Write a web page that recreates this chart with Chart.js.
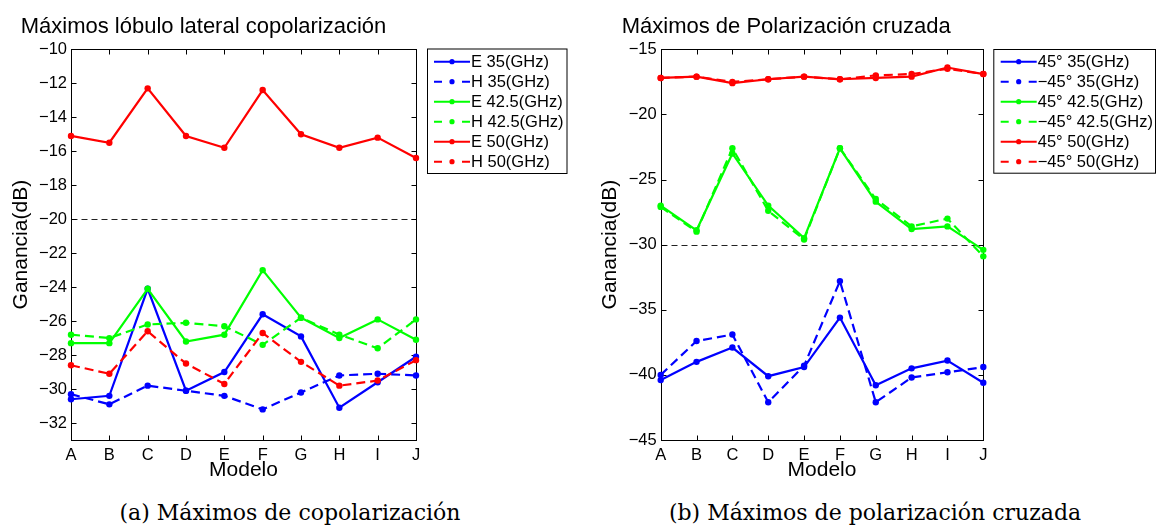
<!DOCTYPE html>
<html>
<head>
<meta charset="utf-8">
<script src="https://cdn.jsdelivr.net/npm/chart.js@4.4.1/dist/chart.umd.min.js"></script>
<style>
body { margin:0; background:#fff; width:1158px; height:531px; position:relative; overflow:hidden; font-family:'Liberation Sans', Arial, sans-serif; }
canvas { position:absolute; top:0; }
#graf1 { left:0; }
#graf2 { left:580px; }
.titulo { position:absolute; top:14.7px; font-size:22px; line-height:22px; white-space:nowrap; color:#000; }
.pie { position:absolute; top:502px; font-family:'DejaVu Serif', serif; font-size:22px; line-height:22px; white-space:nowrap; transform:translateX(-50%); color:#000; }
</style>
</head>
<body>
<canvas id="graf1" width="580" height="490"></canvas>
<canvas id="graf2" width="578" height="490"></canvas>
<div class="titulo" style="left:20.7px">Máximos lóbulo lateral copolarización</div>
<div class="titulo" style="left:621.7px">Máximos de Polarización cruzada</div>
<div class="pie" style="left:290px">(a) Máximos de copolarización</div>
<div class="pie" style="left:875px">(b) Máximos de polarización cruzada</div>
<script>
// Modelos de antena en el eje x
var modelos = ['A', 'B', 'C', 'D', 'E', 'F', 'G', 'H', 'I', 'J'];

// (a) Máximos del lóbulo lateral en copolarización, plano E y plano H
var e35  = [-30.6, -30.4, -24.1, -30.1, -29.0, -25.6, -26.9, -31.1, -29.6, -28.1];
var h35  = [-30.3, -30.9, -29.8, -30.1, -30.4, -31.2, -30.2, -29.2, -29.1, -29.2];
var e425 = [-27.3, -27.3, -24.1, -27.2, -26.8, -23.0, -25.8, -27.0, -25.9, -27.1];
var h425 = [-26.8, -27.0, -26.2, -26.1, -26.3, -27.4, -25.8, -26.8, -27.6, -25.9];
var e50  = [-15.1, -15.5, -12.3, -15.1, -15.8, -12.4, -15.0, -15.8, -15.2, -16.4];
var h50  = [-28.6, -29.1, -26.6, -28.5, -29.7, -26.7, -28.4, -29.8, -29.5, -28.3];
var ticksCo = [-32, -30, -28, -26, -24, -22, -20, -18, -16, -14, -12, -10];
var umbralCo = -20;

// (b) Máximos de polarización cruzada, +45° y -45°
var p45_35  = [-40.4, -39.0, -37.9, -40.1, -39.4, -35.6, -40.8, -39.5, -38.9, -40.6];
var m45_35  = [-40.0, -37.4, -36.9, -42.1, -39.3, -32.8, -42.1, -40.2, -39.8, -39.4];
var p45_425 = [-27.0, -28.9, -23.0, -27.0, -29.5, -22.6, -26.7, -28.8, -28.6, -30.4];
var m45_425 = [-27.1, -29.0, -22.6, -27.4, -29.6, -22.6, -26.5, -28.6, -28.0, -30.9];
var p45_50  = [-17.2, -17.1, -17.6, -17.3, -17.1, -17.3, -17.2, -17.1, -16.4, -16.9];
var m45_50  = [-17.2, -17.1, -17.5, -17.3, -17.1, -17.3, -17.0, -16.9, -16.5, -16.9];
var ticksCruz = [-45, -40, -35, -30, -25, -20, -15];
var umbralCruz = -30;

var AZUL = '#0000ff', VERDE = '#00ff00', ROJO = '#ff0000';
var FUENTE = "'Liberation Sans', Arial, sans-serif";

Chart.defaults.font.family = FUENTE;
Chart.defaults.color = '#000';

// Una serie con línea continua o discontinua y puntos rellenos
function serie(etiqueta, datos, color, discontinua) {
    return {
        label: etiqueta,
        data: datos,
        borderColor: color,
        backgroundColor: color,
        borderWidth: 2.2,
        borderDash: discontinua ? [9, 5] : [],
        pointRadius: 3.2,
        pointHoverRadius: 3.2,
        pointBorderWidth: 0,
        tension: 0,
        clip: false
    };
}

// Las últimas series se pintan encima, como en MATLAB
function ordenar(series) {
    series.forEach(function(s, i) { s.order = series.length - i; });
    return series;
}

function menos(v) {
    return String(v).replace('-', '\u2212');
}

// Caja del eje, marcas hacia dentro y línea de referencia punteada
var marco = {
    id: 'marco',
    beforeDatasetsDraw: function(chart, args, o) {
        var ctx = chart.ctx, a = chart.chartArea;
        var sx = chart.scales.x, sy = chart.scales.y;
        var L = Math.round(a.left) + 0.5, R = Math.round(a.right) + 0.5;
        var T = Math.round(a.top) + 0.5, B = Math.round(a.bottom) + 0.5;
        ctx.save();
        ctx.strokeStyle = '#000';
        ctx.lineWidth = 1;

        // línea de referencia
        var yu = Math.round(sy.getPixelForValue(o.umbral)) + 0.5;
        ctx.setLineDash([6, 4]);
        ctx.strokeStyle = '#222';
        ctx.beginPath();
        ctx.moveTo(L, yu);
        ctx.lineTo(R, yu);
        ctx.stroke();
        ctx.setLineDash([]);
        ctx.strokeStyle = '#000';

        ctx.strokeRect(L, T, R - L, B - T);
        ctx.beginPath();
        sy.ticks.forEach(function(t) {
            var p = Math.round(sy.getPixelForValue(t.value)) + 0.5;
            ctx.moveTo(L, p); ctx.lineTo(L + 5, p);
            ctx.moveTo(R, p); ctx.lineTo(R - 5, p);
        });
        sx.ticks.forEach(function(t, i) {
            var p = Math.round(sx.getPixelForTick(i)) + 0.5;
            ctx.moveTo(p, T); ctx.lineTo(p, T + 5);
            ctx.moveTo(p, B); ctx.lineTo(p, B - 5);
        });
        ctx.stroke();
        ctx.restore();
    }
};

// Leyenda en recuadro a la derecha del gráfico
var leyenda = {
    id: 'leyenda',
    afterDraw: function(chart, args, o) {
        var ctx = chart.ctx;
        ctx.save();
        ctx.fillStyle = '#fff';
        ctx.fillRect(o.x, o.y, o.w, o.h);
        ctx.strokeStyle = '#000';
        ctx.lineWidth = 1;
        ctx.strokeRect(o.x + 0.5, o.y + 0.5, o.w, o.h);
        ctx.font = '16.5px ' + FUENTE;
        ctx.textBaseline = 'middle';
        chart.data.datasets.forEach(function(ds, i) {
            var yy = o.y + o.fila0 + i * o.paso;
            ctx.strokeStyle = ds.borderColor;
            ctx.lineWidth = 2;
            ctx.beginPath();
            if (ds.borderDash.length) {
                ctx.moveTo(o.x0, yy); ctx.lineTo(o.x0 + 8, yy);
                ctx.moveTo(o.x1 - 8, yy); ctx.lineTo(o.x1, yy);
            } else {
                ctx.moveTo(o.x0, yy); ctx.lineTo(o.x1, yy);
            }
            ctx.stroke();
            ctx.fillStyle = ds.borderColor;
            ctx.beginPath();
            ctx.arc((o.x0 + o.x1) / 2, yy, 2.6, 0, Math.PI * 2);
            ctx.fill();
            ctx.fillStyle = '#000';
            ctx.fillText(ds.label, o.x1 + 1, yy + 1);
        });
        ctx.restore();
    }
};

function escalas(ticks, min, max, anchoY, padTituloY) {
    return {
        x: {
            type: 'category',
            offset: false,
            grid: { display: false, drawTicks: false },
            border: { display: false },
            ticks: { padding: 6, font: { size: 16.5 }, color: '#000', maxRotation: 0, autoSkip: false },
            title: { display: true, text: 'Modelo', font: { size: 21 }, color: '#000', padding: { top: 0, bottom: 7.4 } },
            afterFit: function(s) { s.height = 50; }
        },
        y: {
            min: min,
            max: max,
            grid: { display: false, drawTicks: false },
            border: { display: false },
            afterBuildTicks: function(s) { s.ticks = ticks.map(function(v) { return { value: v }; }); },
            ticks: { padding: 4, font: { size: 16.5 }, color: '#000', callback: function(v) { return menos(v); } },
            title: { display: true, text: 'Ganancia(dB)', font: { size: 21 }, color: '#000', padding: { top: padTituloY, bottom: 0 } },
            afterFit: function(s) { s.width = anchoY; }
        }
    };
}

function grafico(id, series, ticks, min, max, umbral, anchoY, padTituloY, derecha, caja) {
    new Chart(document.getElementById(id).getContext('2d'), {
        type: 'line',
        data: { labels: modelos, datasets: ordenar(series) },
        options: {
            responsive: false,
            animation: false,
            events: [],
            layout: { padding: { top: 49.3, right: derecha, left: 0, bottom: 0 } },
            scales: escalas(ticks, min, max, anchoY, padTituloY),
            plugins: {
                legend: { display: false },
                tooltip: { enabled: false },
                marco: { umbral: umbral },
                leyenda: caja
            }
        },
        plugins: [marco, leyenda]
    });
}

grafico('graf1', [
    serie('E 35(GHz)', e35, AZUL, false),
    serie('H 35(GHz)', h35, AZUL, true),
    serie('E 42.5(GHz)', e425, VERDE, false),
    serie('H 42.5(GHz)', h425, VERDE, true),
    serie('E 50(GHz)', e50, ROJO, false),
    serie('H 50(GHz)', h50, ROJO, true)
], ticksCo, -33, -10, umbralCo, 71, 8.4, 164,
   { x: 427, y: 48.5, w: 139.5, h: 124.5, fila0: 13.2, paso: 20, x0: 434, x1: 470 });

grafico('graf2', [
    serie('45\u00b0 35(GHz)', p45_35, AZUL, false),
    serie('\u221245\u00b0 35(GHz)', m45_35, AZUL, true),
    serie('45\u00b0 42.5(GHz)', p45_425, VERDE, false),
    serie('\u221245\u00b0 42.5(GHz)', m45_425, VERDE, true),
    serie('45\u00b0 50(GHz)', p45_50, ROJO, false),
    serie('\u221245\u00b0 50(GHz)', m45_50, ROJO, true)
], ticksCruz, -45, -15, umbralCruz, 80.7, 17.4, 174.7,
   { x: 413.3, y: 49, w: 161.7, h: 123.7, fila0: 12.7, paso: 20, x0: 420.7, x1: 456.7 });
</script>
</body>
</html>
